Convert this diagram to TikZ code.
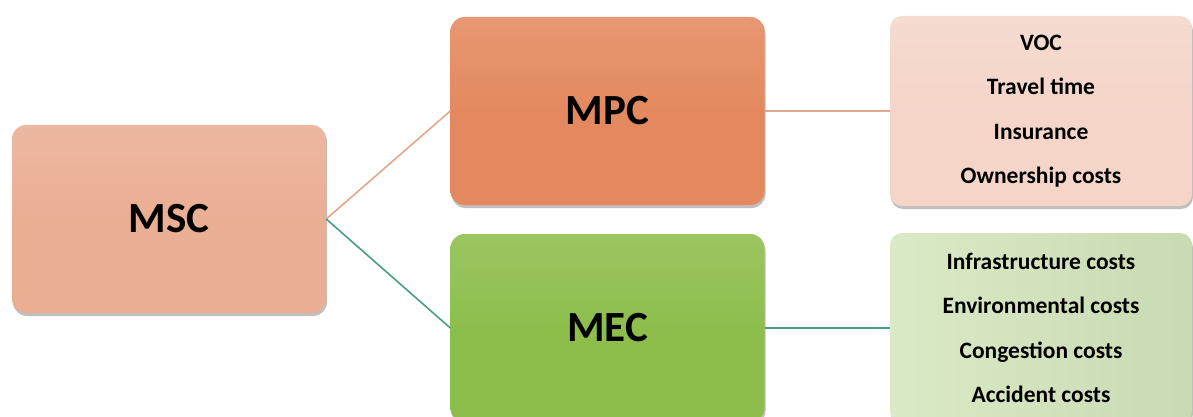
\documentclass[tikz,border=0pt]{standalone}
\usepackage{fontspec}
\setmainfont{Carlito}
\usetikzlibrary{positioning, shadows}

\definecolor{mscfill}{HTML}{EAAE93}
\definecolor{mpcfill}{HTML}{E4895F}
\definecolor{mecfill}{HTML}{8DBE4C}
\definecolor{privfill}{HTML}{F4D5C8}
\definecolor{extfill}{HTML}{D3E6BC}
\definecolor{privline}{HTML}{E3A88C}
\definecolor{extline}{HTML}{4A9D86}

\begin{document}
\begin{tikzpicture}[
  x=1pt, y=-1pt,
  box/.style  = {rounded corners=14pt, minimum width=314pt, minimum height=188pt,
                 inner sep=0pt, font=\fontsize{43}{50}\selectfont\bfseries,
                 drop shadow={shadow xshift=1pt, shadow yshift=-3pt, opacity=0.25, fill=black}},
  list/.style = {rounded corners=12pt, minimum width=302pt, minimum height=190pt,
                 inner sep=0pt, align=center, font=\fontsize{23.5}{44.5}\selectfont\bfseries,
                 drop shadow={shadow xshift=1pt, shadow yshift=-3pt, opacity=0.25, fill=black}},
  link/.style = {line width=1.6pt},
]
  \useasboundingbox (0,0) rectangle (1193,417);

  % cost boxes
  \node[box, top color=mscfill!88!white, bottom color=mscfill, middle color=mscfill] (msc) at (169,219) {MSC};
  \node[box, top color=mpcfill!88!white, bottom color=mpcfill, middle color=mpcfill] (mpc) at (607.5,111) {MPC};
  \node[box, top color=mecfill!88!white, bottom color=mecfill, middle color=mecfill] (mec) at (607.5,328) {MEC};

  % what goes into each part
  \node[list, top color=privfill!85!white, bottom color=privfill, middle color=privfill] (priv) at (1041,111)
    {VOC\\Travel time\\Insurance\\Ownership costs};
  \node[list, left color=extfill!85!white, right color=extfill!95!black] (ext) at (1041,328)
    {Infrastructure costs\\Environmental costs\\Congestion costs\\Accident costs};

  \draw[link, privline] (msc.east) -- (mpc.west);
  \draw[link, extline]  (msc.east) -- (mec.west);
  \draw[link, privline] (mpc.east) -- (priv.west);
  \draw[link, extline]  (mec.east) -- (ext.west);
\end{tikzpicture}
\end{document}
